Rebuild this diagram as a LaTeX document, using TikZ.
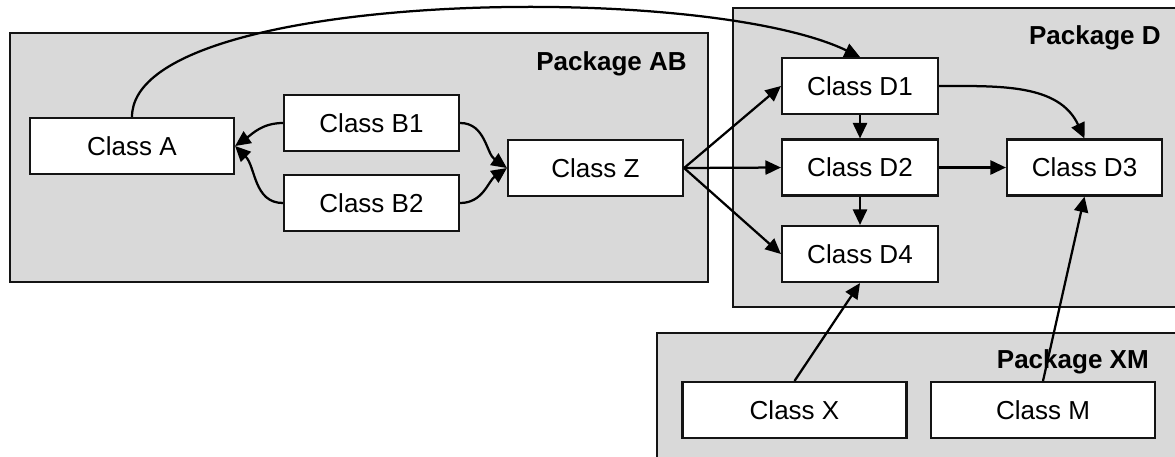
\documentclass[tikz,border=0pt]{standalone}
\usepackage{fontspec}
\setmainfont{Liberation Sans}
\usepackage{tikz}
\usetikzlibrary{arrows.meta}
\definecolor{cfond}{RGB}{217,217,217}
\definecolor{ctrait}{RGB}{20,20,20}

\tikzset{
  pkg/.style={draw=ctrait, line width=1.3pt, fill=cfond},
  pkglabel/.style={anchor=base east, inner sep=0pt, font=\fontsize{18.5}{22}\selectfont\bfseries},
  classbox/.style={draw=ctrait, line width=1.5pt, fill=white, minimum height=1.4cm, inner sep=0pt},
  dep/.style={line width=1.6pt, ->}
}

\begin{document}
\begin{tikzpicture}[x=0.025cm, y=-0.025cm, >={Triangle[length=11pt,width=10pt]},
  every node/.style={font=\fontsize{18.5}{22}\selectfont}]
\clip (0,0) rectangle (1175,456);
\draw[pkg] (10,33) rectangle (708,282);
\draw[pkg] (733,8) rectangle (1185,307);
\draw[pkg] (657,333) rectangle (1185,470);
\node[pkglabel] (labAB) at (687,70) {Package AB};
\node[pkglabel] (labD) at (1161,44) {Package D};
\node[pkglabel] (labXM) at (1149,368) {Package XM};

\node[classbox, minimum width=5.1cm] (A) at (132,146) {Class A};
\node[classbox, minimum width=4.375cm] (B1) at (371.5,123) {Class B1};
\node[classbox, minimum width=4.375cm] (B2) at (371.5,203) {Class B2};
\node[classbox, minimum width=4.375cm] (Z) at (595.5,168) {Class Z};
\node[classbox, minimum width=3.9cm] (D1) at (860,86) {Class D1};
\node[classbox, minimum width=3.9cm] (D2) at (860,167.5) {Class D2};
\node[classbox, minimum width=3.9cm] (D4) at (860,254) {Class D4};
\node[classbox, minimum width=3.875cm] (D3) at (1084.5,167.5) {Class D3};
\node[classbox, minimum width=5.6cm] (X) at (794.5,410) {Class X};
\node[classbox, minimum width=5.6cm] (M) at (1043,410) {Class M};

\draw[dep] (A.north) .. controls (132,-10) and (700,-20) .. (D1.north);
\draw[dep] (B1.west) to[out=180,in=35] (A.east);
\draw[dep] (B2.west) to[out=180,in=-45] (A.east);
\draw[dep] (B1.east) to[out=0,in=145] (Z.west);
\draw[dep] (B2.east) to[out=0,in=-145] (Z.west);
\foreach \d in {D1,D2,D4}
  {\draw[dep] (Z.east) -- (\d.west);}
\draw[dep] (D1.south) -- (D2.north);
\draw[dep] (D2.south) -- (D4.north);
\draw[dep] (D2.east) -- (D3.west);
\draw[dep] (D1.east) to[out=0,in=115] (D3.north);
\draw[dep] (X.north) -- (D4.south);
\draw[dep] (M.north) -- (D3.south);
\end{tikzpicture}
\end{document}
